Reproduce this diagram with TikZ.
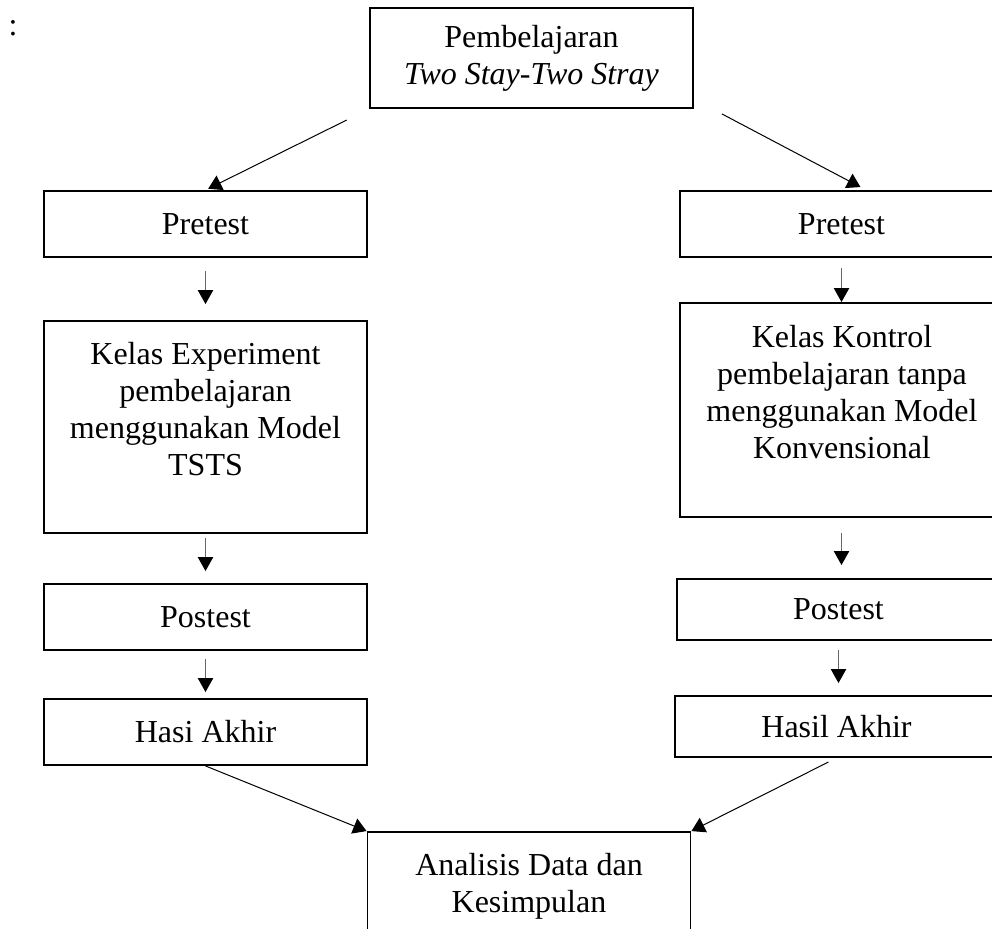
\documentclass[tikz,border=0pt]{standalone}
\usepackage{fontspec}
\setmainfont{Liberation Serif}
\usetikzlibrary{arrows.meta,calc}

\tikzset{
  box/.style={draw, line width=1.4pt, minimum width=242.25pt, inner sep=0pt, align=center, font=\fontsize{24}{27.75}\selectfont},
  boxtext/.style={inner sep=0pt, align=center, font=\fontsize{24}{27.75}\selectfont},
  diag/.style={line width=0.75pt, -{Triangle[width=12pt,length=10pt]}},
  down/.style={line width=0.8pt, draw=black!60, -{Triangle[width=11.5pt,length=10.5pt,color=black]}},
}

\begin{document}
\begin{tikzpicture}[x=0.75pt,y=0.75pt,yscale=-1,xscale=1]
%set diagram size 992 x 928
\path[use as bounding box, fill=white] (0,0) rectangle (992,928);
\clip (0,0) rectangle (992,928);

% Text Node
\node[boxtext, anchor=base] (colon) at (13,36) {:};

%Shape: Rectangle [top]
\node[box, minimum height=75pt] (top) at (531.5,58) {Pembelajaran\\\textit{Two Stay-Two Stray}};

%Shape: Rectangle [left column]
\node[box, minimum height=49.5pt] (lpre) at (205.5,224) {Pretest};
\node[box, minimum height=159pt] (lexp) at (205.5,427) {};
% Text Node
\node[boxtext, anchor=north] (lexptext) at (205.5,342) {Kelas Experiment\\pembelajaran\\menggunakan Model\\TSTS};
\node[box, minimum height=49.5pt] (lpost) at (205.5,617) {Postest};
\node[box, minimum height=49.5pt] (lhasil) at (205.5,732) {Hasi Akhir};

%Shape: Rectangle [right column]
\node[box, minimum height=49.5pt] (rpre) at (841.5,224) {Pretest};
\node[box, minimum height=160.5pt] (rkon) at (841.5,410) {};
% Text Node
\node[boxtext, anchor=north] (rkontext) at (842,325) {Kelas Kontrol\\pembelajaran tanpa\\menggunakan Model\\Konvensional};
\node[box, minimum height=45.75pt] (rpost) at (838.5,609.5) {Postest};
\node[box, minimum height=45.75pt] (rhasil) at (836.5,726.5) {Hasil Akhir};

%Shape: Rectangle [bottom]
\node[box, minimum height=81pt] (bottom) at (529,886) {Analisis Data dan\\Kesimpulan};

%Straight Lines [top]
\draw[diag, shorten <=18.75pt, shorten >=2.25pt] (top.south west) -- (lpre.north);
\draw[diag] ($(top.south east)+(28,5)$) -- ($(rpre.north)+(19,-3)$);

%Straight Lines [left column]
\draw[down, shorten <=9.75pt, shorten >=12pt] (lpre.south) -- (lexp.north);
\draw[down, shorten <=3pt, shorten >=9pt] (lexp.south) -- (lpost.north);
\draw[down, shorten <=6pt, shorten >=4.5pt] (lpost.south) -- (lhasil.north);

%Straight Lines [right column]
\draw[down, shorten <=7.5pt] (rpre.south) -- (rkon.north);
\draw[down, shorten <=11.25pt, shorten >=9.75pt] (rkon.south) -- (rkon.south |- rpost.north);
\draw[down, shorten <=6.75pt, shorten >=9pt] (rpost.south) -- (rpost.south |- rhasil.north);

%Straight Lines [bottom]
\draw[diag] (lhasil.south) -- (bottom.north west);
\draw[diag, shorten <=6.75pt] (rhasil.south) -- (bottom.north east);

\end{tikzpicture}
\end{document}
